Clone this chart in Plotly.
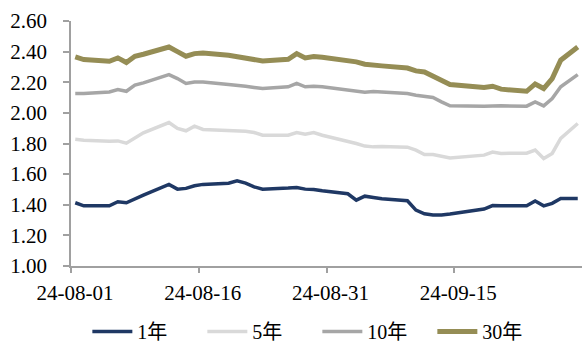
import plotly.graph_objects as go

dates = [
    "2024-08-01", "2024-08-02", "2024-08-05", "2024-08-06", "2024-08-07", "2024-08-08", "2024-08-09",
    "2024-08-12", "2024-08-13", "2024-08-14", "2024-08-15", "2024-08-16",
    "2024-08-19", "2024-08-20", "2024-08-21", "2024-08-22", "2024-08-23",
    "2024-08-26", "2024-08-27", "2024-08-28", "2024-08-29", "2024-08-30",
    "2024-09-02", "2024-09-03", "2024-09-04", "2024-09-05", "2024-09-06",
    "2024-09-09", "2024-09-10", "2024-09-11", "2024-09-12", "2024-09-13", "2024-09-14",
    "2024-09-18", "2024-09-19", "2024-09-20",
    "2024-09-23", "2024-09-24", "2024-09-25", "2024-09-26", "2024-09-27", "2024-09-29",
]

y1 = [1.413, 1.393, 1.393, 1.420, 1.413, 1.435, 1.463,
      1.533, 1.502, 1.507, 1.524, 1.533,
      1.541, 1.556, 1.541, 1.517, 1.502,
      1.509, 1.513, 1.502, 1.500, 1.491,
      1.472, 1.430, 1.456, 1.448, 1.439,
      1.426, 1.365, 1.341, 1.333, 1.333, 1.339,
      1.372, 1.395, 1.393,
      1.393, 1.424, 1.393, 1.409, 1.441, 1.441]

y5 = [1.828, 1.822, 1.815, 1.817, 1.802, 1.837, 1.870,
      1.937, 1.898, 1.883, 1.913, 1.892,
      1.887, 1.887, 1.880, 1.872, 1.854,
      1.854, 1.872, 1.861, 1.872, 1.854,
      1.815, 1.800, 1.783, 1.778, 1.780,
      1.776, 1.757, 1.728, 1.728, 1.719, 1.706,
      1.724, 1.744, 1.735,
      1.737, 1.757, 1.702, 1.735, 1.833, 1.931]

y10 = [2.126, 2.126, 2.137, 2.152, 2.141, 2.181, 2.196,
       2.250, 2.224, 2.192, 2.202, 2.202,
       2.185, 2.181, 2.174, 2.166, 2.159,
       2.170, 2.192, 2.170, 2.174, 2.170,
       2.152, 2.143, 2.135, 2.139, 2.135,
       2.126, 2.115, 2.107, 2.100, 2.072, 2.046,
       2.044, 2.046, 2.046,
       2.044, 2.072, 2.046, 2.094, 2.170, 2.250]

y30 = [2.365, 2.348, 2.337, 2.359, 2.329, 2.370, 2.383,
       2.430, 2.400, 2.370, 2.387, 2.391,
       2.376, 2.368, 2.359, 2.346, 2.339,
       2.350, 2.387, 2.359, 2.368, 2.363,
       2.344, 2.333, 2.318, 2.311, 2.307,
       2.293, 2.274, 2.267, 2.241, 2.213, 2.185,
       2.166, 2.174, 2.155,
       2.141, 2.189, 2.159, 2.224, 2.344, 2.430]

series_names = ["1年", "5年", "10年", "30年"]
series_colors = ["#1F3864", "#D9D9D9", "#A6A6A6", "#958D55"]
series_widths = [3.5, 3.5, 3.5, 5]

tick_vals = ["2024-07-31 12:00", "2024-08-15 12:00", "2024-08-30 12:00", "2024-09-14 12:00"]
tick_text = ["24-08-01", "24-08-16", "24-08-31", "24-09-15"]

FONT = "Liberation Serif, Times New Roman, Noto Sans CJK SC, serif"

fig = go.Figure()
for name, ys, col, w in zip(series_names, [y1, y5, y10, y30], series_colors, series_widths):
    fig.add_trace(go.Scatter(x=dates, y=ys, mode="lines", name=name,
                             line=dict(color=col, width=w)))

fig.update_layout(
    width=582, height=351,
    margin=dict(l=71, r=0, t=21, b=85, autoexpand=False),
    paper_bgcolor="white", plot_bgcolor="white",
    font=dict(family=FONT, size=20, color="black"),
    showlegend=True,
    legend=dict(orientation="h", x=0.032, xanchor="left", y=-0.347, yanchor="bottom",
                bgcolor="rgba(0,0,0,0)",
                font=dict(size=20, family=FONT), itemwidth=40, tracegroupgap=0,
                entrywidth=60, entrywidthmode="pixels"),
)
fig.update_xaxes(
    type="date",
    range=["2024-07-31 12:00", "2024-09-29 12:00"],
    tickmode="array", tickvals=tick_vals, ticktext=tick_text,
    ticks="outside", ticklen=5, tickwidth=1.5, tickcolor="#A0A0A0",
    ticklabelshift=4, ticklabelstandoff=2,
    showline=True, linecolor="#A0A0A0", linewidth=1.5,
    showgrid=False, zeroline=False,
    tickfont=dict(size=21, family=FONT),
)
fig.update_yaxes(
    range=[1.0, 2.6], dtick=0.2, tick0=1.0, tickformat=".2f",
    ticks="outside", ticklen=6, tickwidth=1.5, tickcolor="#A0A0A0",
    ticklabelstandoff=12,
    showline=True, linecolor="#A0A0A0", linewidth=1.5,
    showgrid=False, zeroline=False,
    tickfont=dict(size=21, family=FONT),
)

fig.write_html("out.html")
